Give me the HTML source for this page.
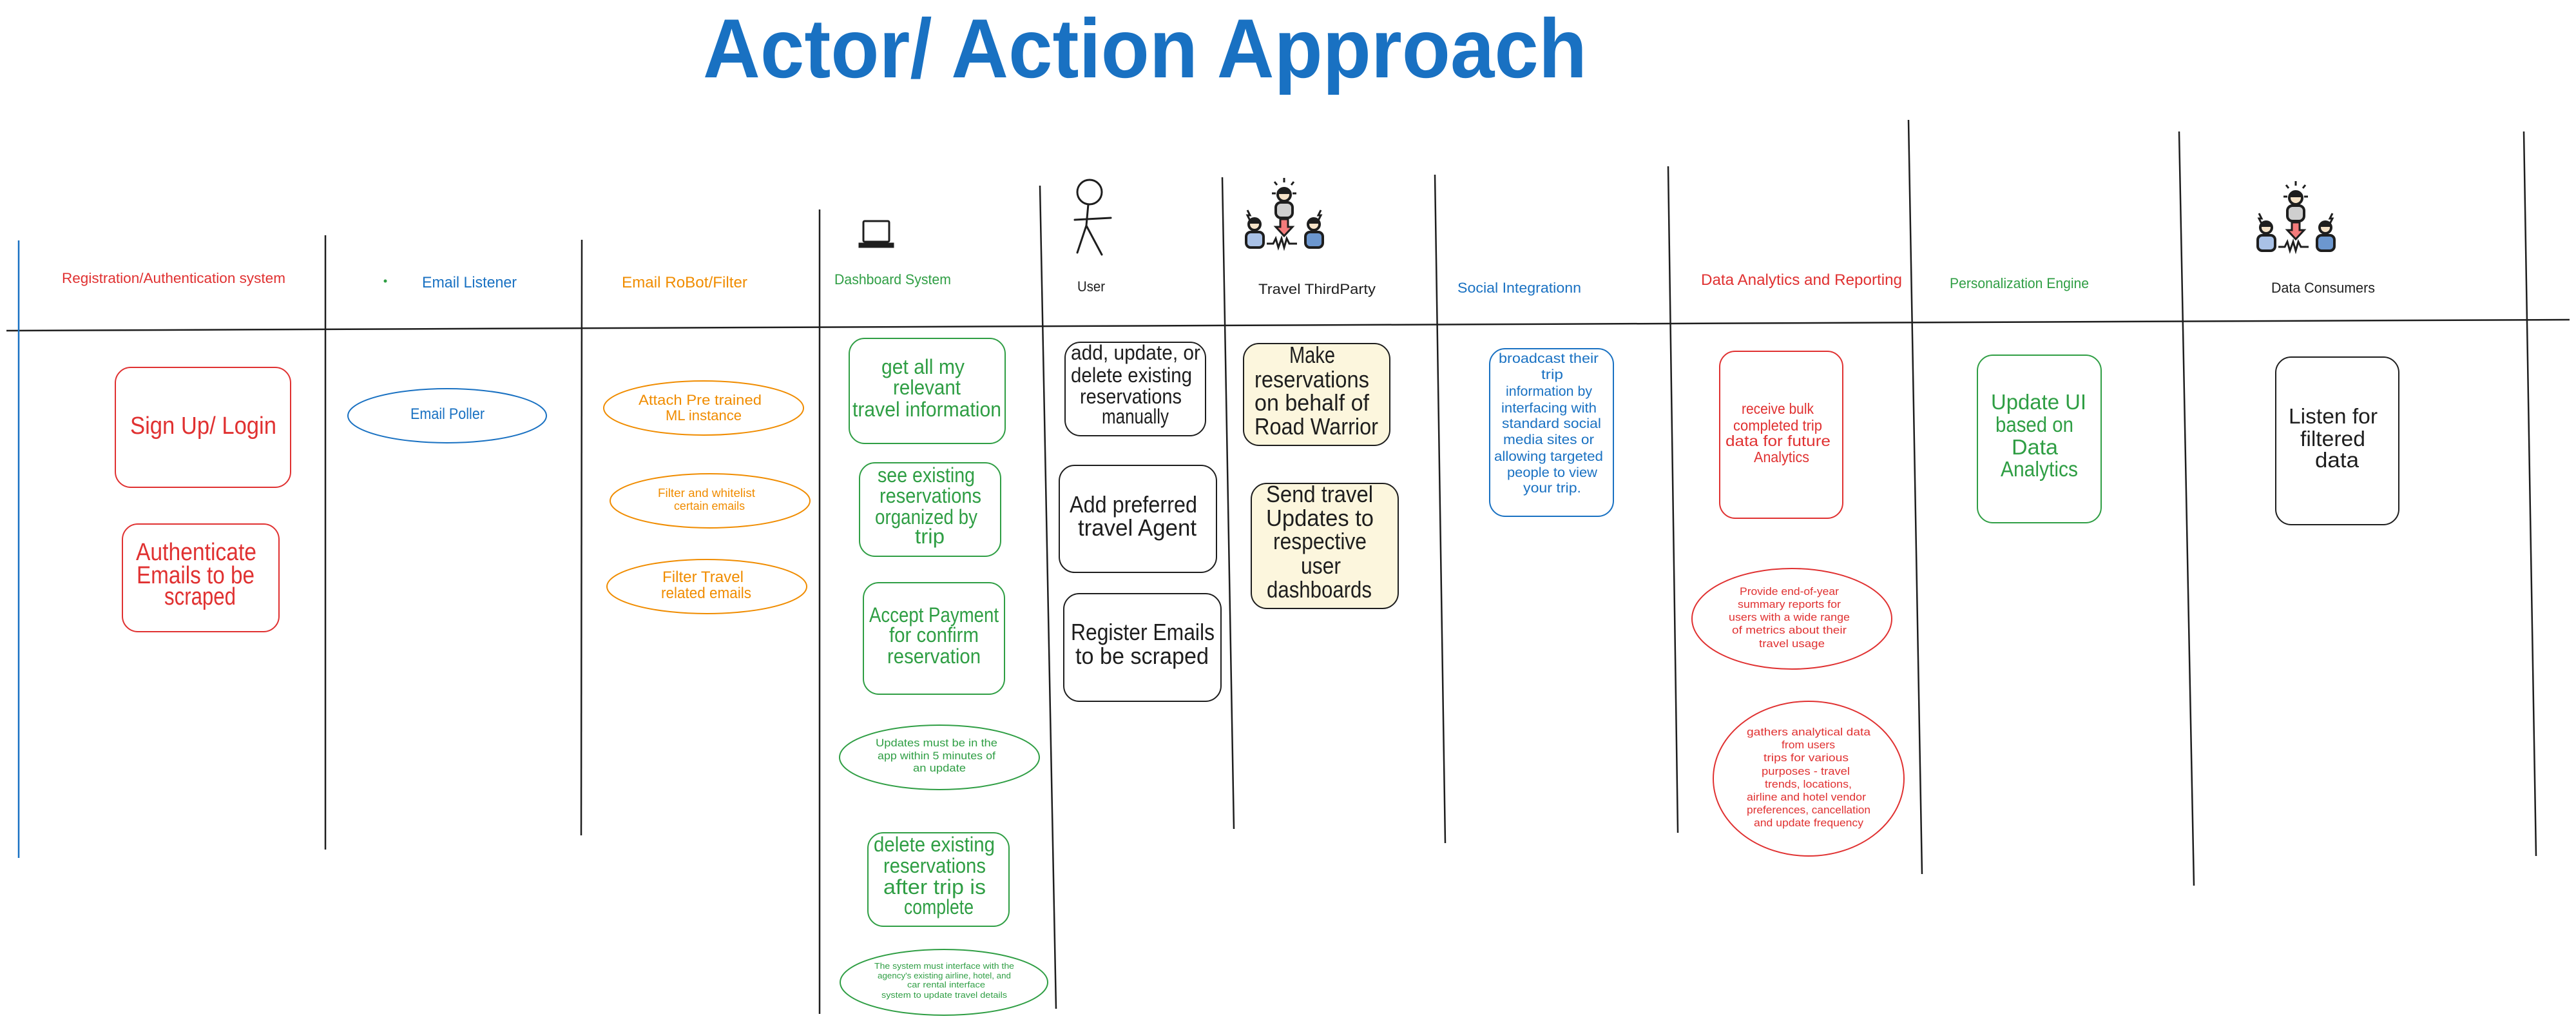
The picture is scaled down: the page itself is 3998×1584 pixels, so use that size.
<!DOCTYPE html>
<html><head><meta charset="utf-8"><style>
html,body{margin:0;padding:0;background:#fff;}
svg{display:block;}
text{font-family:"Liberation Sans",sans-serif;}
</style></head><body>
<svg width="3998" height="1584" viewBox="0 0 3998 1584" xmlns="http://www.w3.org/2000/svg">
<defs>
<g id="ppl">
  <g stroke="#1e1e1e" stroke-width="3" fill="none">
    <line x1="65" y1="2" x2="65" y2="9"/><line x1="50" y1="8" x2="54" y2="13"/><line x1="80" y1="8" x2="76" y2="13"/>
    <line x1="46" y1="26" x2="52" y2="26"/><line x1="78" y1="26" x2="84" y2="26"/>
  </g>
  <circle cx="65" cy="28" r="10" fill="#f6e3c8" stroke="#1e1e1e" stroke-width="4"/>
  <path d="M65 18 a10 10 0 0 1 10 9 h-20 a10 10 0 0 1 10 -9z" fill="#1e1e1e"/>
  <rect x="52" y="40" width="26" height="24" rx="8" fill="#cfcfcf" stroke="#1e1e1e" stroke-width="4"/>
  <path d="M59 66 h12 v12 h7 l-13 14 l-13 -14 h7z" fill="#f47b7b" stroke="#1e1e1e" stroke-width="3"/>
  <circle cx="19" cy="74" r="9" fill="#f6e3c8" stroke="#1e1e1e" stroke-width="4"/>
  <path d="M19 65 a9 9 0 0 1 9 8 h-18 a9 9 0 0 1 9 -8z" fill="#1e1e1e"/>
  <rect x="6" y="86" width="27" height="24" rx="7" fill="#a9c1e6" stroke="#1e1e1e" stroke-width="4"/>
  <circle cx="111" cy="74" r="9" fill="#f6e3c8" stroke="#1e1e1e" stroke-width="4"/>
  <path d="M111 65 a9 9 0 0 1 9 8 h-18 a9 9 0 0 1 9 -8z" fill="#1e1e1e"/>
  <rect x="98" y="86" width="27" height="24" rx="7" fill="#6c97cf" stroke="#1e1e1e" stroke-width="4"/>
  <path d="M38 104 h10 l4 -8 l4 14 l5 -14 l4 14 l4 -14 l4 8 h12" fill="none" stroke="#1e1e1e" stroke-width="3"/>
  <path d="M8 52 l4 8 l-4 0 l4 8" fill="none" stroke="#1e1e1e" stroke-width="3"/>
  <path d="M122 52 l-4 8 l4 0 l-4 8" fill="none" stroke="#1e1e1e" stroke-width="3"/>
</g>
</defs>

<!-- Title -->
<text x="1091" y="120" font-size="130" font-weight="bold" fill="#1971c2" textLength="1372" lengthAdjust="spacingAndGlyphs">Actor/ Action Approach</text>

<!-- Grid lines -->
<line x1="10" y1="513" x2="3988" y2="496" stroke="#1e1e1e" stroke-width="2.5"/>
<line x1="29" y1="373" x2="29" y2="1331" stroke="#1971c2" stroke-width="2.5"/>
<g stroke="#1e1e1e" stroke-width="2.5">
<line x1="505" y1="365" x2="505" y2="1318"/>
<line x1="903" y1="372" x2="902" y2="1296"/>
<line x1="1272" y1="325" x2="1272" y2="1573"/>
<line x1="1614" y1="288" x2="1639" y2="1565"/>
<line x1="1897" y1="275" x2="1915" y2="1286"/>
<line x1="2227" y1="271" x2="2243" y2="1308"/>
<line x1="2589" y1="258" x2="2604" y2="1292"/>
<line x1="2962" y1="186" x2="2983" y2="1356"/>
<line x1="3382" y1="204" x2="3405" y2="1374"/>
<line x1="3917" y1="204" x2="3936" y2="1328"/>
</g>

<!-- Headers -->
<text x="96" y="439" font-size="22" fill="#e03131" textLength="347" lengthAdjust="spacingAndGlyphs">Registration/Authentication system</text>
<circle cx="598" cy="436" r="2.5" fill="#2f9e44"/>
<text x="655" y="446" font-size="24" fill="#1971c2" textLength="147" lengthAdjust="spacingAndGlyphs">Email Listener</text>
<text x="965" y="446" font-size="24" fill="#f08c00" textLength="195" lengthAdjust="spacingAndGlyphs">Email RoBot/Filter</text>
<text x="1295" y="441" font-size="22" fill="#2f9e44" textLength="181" lengthAdjust="spacingAndGlyphs">Dashboard System</text>
<text x="1672" y="452" font-size="22" fill="#1e1e1e" textLength="43" lengthAdjust="spacingAndGlyphs">User</text>
<text x="1953" y="456" font-size="22" fill="#1e1e1e" textLength="182" lengthAdjust="spacingAndGlyphs">Travel ThirdParty</text>
<text x="2262" y="454" font-size="22" fill="#1971c2" textLength="192" lengthAdjust="spacingAndGlyphs">Social Integrationn</text>
<text x="2640" y="442" font-size="24" fill="#e03131" textLength="312" lengthAdjust="spacingAndGlyphs">Data Analytics and Reporting</text>
<text x="3026" y="447" font-size="22" fill="#2f9e44" textLength="216" lengthAdjust="spacingAndGlyphs">Personalization Engine</text>
<text x="3525" y="454" font-size="22" fill="#1e1e1e" textLength="161" lengthAdjust="spacingAndGlyphs">Data Consumers</text>

<!-- Icons -->
<g stroke="#1e1e1e" stroke-width="3" fill="none">
  <rect x="1340" y="343" width="40" height="32" rx="2"/>
  <path d="M1334 378 h52 v5 h-52z" fill="#1e1e1e"/>
</g>
<g stroke="#1e1e1e" stroke-width="3" fill="none" stroke-linecap="round">
  <circle cx="1691" cy="298" r="19"/>
  <path d="M1689 317 L1686 350 L1672 392 M1686 350 L1710 395 M1668 341 L1724 338"/>
</g>
<use href="#ppl" transform="translate(1928,274)"/>
<use href="#ppl" transform="translate(3498,279)"/>

<!-- Shapes -->
<g fill="none" stroke-width="2">
  <rect x="179" y="570" width="272" height="186" rx="24" stroke="#e03131"/>
  <rect x="190" y="813" width="243" height="167" rx="24" stroke="#e03131"/>
  <ellipse cx="694" cy="645" rx="154" ry="42" stroke="#1971c2"/>
  <ellipse cx="1092" cy="633" rx="155" ry="42" stroke="#f08c00"/>
  <ellipse cx="1102" cy="777" rx="155" ry="42" stroke="#f08c00"/>
  <ellipse cx="1097" cy="910" rx="155" ry="42" stroke="#f08c00"/>
  <rect x="1318" y="525" width="242" height="163" rx="24" stroke="#2f9e44"/>
  <rect x="1334" y="718" width="219" height="145" rx="24" stroke="#2f9e44"/>
  <rect x="1340" y="904" width="219" height="173" rx="24" stroke="#2f9e44"/>
  <ellipse cx="1458" cy="1175" rx="155" ry="50" stroke="#2f9e44"/>
  <rect x="1347" y="1292" width="219" height="145" rx="24" stroke="#2f9e44"/>
  <ellipse cx="1465" cy="1524" rx="161" ry="51" stroke="#2f9e44"/>
  <rect x="1653" y="531" width="218" height="145" rx="24" stroke="#1e1e1e"/>
  <rect x="1644" y="722" width="244" height="166" rx="24" stroke="#1e1e1e"/>
  <rect x="1651" y="921" width="244" height="167" rx="24" stroke="#1e1e1e"/>
  <rect x="1930" y="533" width="227" height="158" rx="24" stroke="#1e1e1e" fill="#fcf6dd"/>
  <rect x="1942" y="750" width="228" height="194" rx="24" stroke="#1e1e1e" fill="#fcf6dd"/>
  <rect x="2312" y="541" width="192" height="260" rx="24" stroke="#1971c2"/>
  <rect x="2669" y="545" width="191" height="259" rx="24" stroke="#e03131"/>
  <ellipse cx="2781" cy="960" rx="155" ry="78" stroke="#e03131"/>
  <ellipse cx="2807" cy="1208" rx="148" ry="120" stroke="#e03131"/>
  <rect x="3069" y="551" width="192" height="260" rx="24" stroke="#2f9e44"/>
  <rect x="3532" y="554" width="191" height="260" rx="24" stroke="#1e1e1e"/>
</g>

<!-- Box texts -->
<g fill="#e03131" font-size="38">
<text x="202" y="673" textLength="227" lengthAdjust="spacingAndGlyphs">Sign Up/ Login</text>
<text x="211" y="869" textLength="187" lengthAdjust="spacingAndGlyphs">Authenticate</text>
<text x="212" y="905" textLength="183" lengthAdjust="spacingAndGlyphs">Emails to be</text>
<text x="255" y="938" textLength="111" lengthAdjust="spacingAndGlyphs">scraped</text>
</g>
<text x="637" y="650" font-size="24" fill="#1971c2" textLength="115" lengthAdjust="spacingAndGlyphs">Email Poller</text>
<g fill="#f08c00">
<text x="991" y="628" font-size="22" textLength="191" lengthAdjust="spacingAndGlyphs">Attach Pre trained</text>
<text x="1033" y="652" font-size="22" textLength="118" lengthAdjust="spacingAndGlyphs">ML instance</text>
<text x="1021" y="771" font-size="18" textLength="151" lengthAdjust="spacingAndGlyphs">Filter and whitelist</text>
<text x="1046" y="791" font-size="18" textLength="110" lengthAdjust="spacingAndGlyphs">certain emails</text>
<text x="1028" y="903" font-size="24" textLength="126" lengthAdjust="spacingAndGlyphs">Filter Travel</text>
<text x="1026" y="928" font-size="24" textLength="140" lengthAdjust="spacingAndGlyphs">related emails</text>
</g>
<g fill="#2f9e44" font-size="32">
<text x="1368" y="580" textLength="129" lengthAdjust="spacingAndGlyphs">get all my</text>
<text x="1386" y="612" textLength="105" lengthAdjust="spacingAndGlyphs">relevant</text>
<text x="1323" y="646" textLength="231" lengthAdjust="spacingAndGlyphs">travel information</text>
<text x="1362" y="748" textLength="151" lengthAdjust="spacingAndGlyphs">see existing</text>
<text x="1365" y="780" textLength="158" lengthAdjust="spacingAndGlyphs">reservations</text>
<text x="1358" y="813" textLength="159" lengthAdjust="spacingAndGlyphs">organized by</text>
<text x="1420" y="843" textLength="46" lengthAdjust="spacingAndGlyphs">trip</text>
<text x="1349" y="965" textLength="201" lengthAdjust="spacingAndGlyphs">Accept Payment</text>
<text x="1380" y="996" textLength="139" lengthAdjust="spacingAndGlyphs">for confirm</text>
<text x="1377" y="1029" textLength="145" lengthAdjust="spacingAndGlyphs">reservation</text>
<text x="1356" y="1321" textLength="188" lengthAdjust="spacingAndGlyphs">delete existing</text>
<text x="1371" y="1354" textLength="159" lengthAdjust="spacingAndGlyphs">reservations</text>
<text x="1371" y="1387" textLength="159" lengthAdjust="spacingAndGlyphs">after trip is</text>
<text x="1403" y="1418" textLength="108" lengthAdjust="spacingAndGlyphs">complete</text>
</g>
<g fill="#2f9e44" font-size="17">
<text x="1359" y="1158" textLength="189" lengthAdjust="spacingAndGlyphs">Updates must be in the</text>
<text x="1362" y="1178" textLength="183" lengthAdjust="spacingAndGlyphs">app within 5 minutes of</text>
<text x="1417" y="1197" textLength="82" lengthAdjust="spacingAndGlyphs">an update</text>
</g>
<g fill="#2f9e44" font-size="13">
<text x="1357" y="1503" textLength="217" lengthAdjust="spacingAndGlyphs">The system must interface with the</text>
<text x="1362" y="1518" textLength="207" lengthAdjust="spacingAndGlyphs">agency's existing airline, hotel, and</text>
<text x="1408" y="1532" textLength="121" lengthAdjust="spacingAndGlyphs">car rental interface</text>
<text x="1368" y="1548" textLength="195" lengthAdjust="spacingAndGlyphs">system to update travel details</text>
</g>
<g fill="#1e1e1e" font-size="32">
<text x="1662" y="558" textLength="201" lengthAdjust="spacingAndGlyphs">add, update, or</text>
<text x="1662" y="593" textLength="188" lengthAdjust="spacingAndGlyphs">delete existing</text>
<text x="1676" y="626" textLength="158" lengthAdjust="spacingAndGlyphs">reservations</text>
<text x="1710" y="657" textLength="104" lengthAdjust="spacingAndGlyphs">manually</text>
</g>
<g fill="#1e1e1e" font-size="36">
<text x="1660" y="795" textLength="198" lengthAdjust="spacingAndGlyphs">Add preferred</text>
<text x="1673" y="831" textLength="184" lengthAdjust="spacingAndGlyphs">travel Agent</text>
<text x="1662" y="993" textLength="223" lengthAdjust="spacingAndGlyphs">Register Emails</text>
<text x="1669" y="1030" textLength="207" lengthAdjust="spacingAndGlyphs">to be scraped</text>
<text x="2001" y="563" textLength="71" lengthAdjust="spacingAndGlyphs">Make</text>
<text x="1947" y="601" textLength="178" lengthAdjust="spacingAndGlyphs">reservations</text>
<text x="1947" y="637" textLength="178" lengthAdjust="spacingAndGlyphs">on behalf of</text>
<text x="1947" y="674" textLength="192" lengthAdjust="spacingAndGlyphs">Road Warrior</text>
<text x="1965" y="779" textLength="166" lengthAdjust="spacingAndGlyphs">Send travel</text>
<text x="1965" y="816" textLength="167" lengthAdjust="spacingAndGlyphs">Updates to</text>
<text x="1976" y="852" textLength="145" lengthAdjust="spacingAndGlyphs">respective</text>
<text x="2019" y="890" textLength="62" lengthAdjust="spacingAndGlyphs">user</text>
<text x="1966" y="927" textLength="163" lengthAdjust="spacingAndGlyphs">dashboards</text>
</g>
<g fill="#1971c2" font-size="21">
<text x="2326" y="563" textLength="155" lengthAdjust="spacingAndGlyphs">broadcast their</text>
<text x="2392" y="588" textLength="34" lengthAdjust="spacingAndGlyphs">trip</text>
<text x="2337" y="614" textLength="134" lengthAdjust="spacingAndGlyphs">information by</text>
<text x="2330" y="640" textLength="148" lengthAdjust="spacingAndGlyphs">interfacing with</text>
<text x="2331" y="664" textLength="154" lengthAdjust="spacingAndGlyphs">standard social</text>
<text x="2333" y="689" textLength="141" lengthAdjust="spacingAndGlyphs">media sites or</text>
<text x="2319" y="715" textLength="169" lengthAdjust="spacingAndGlyphs">allowing targeted</text>
<text x="2339" y="740" textLength="140" lengthAdjust="spacingAndGlyphs">people to view</text>
<text x="2364" y="764" textLength="90" lengthAdjust="spacingAndGlyphs">your trip.</text>
</g>
<g fill="#e03131" font-size="23">
<text x="2703" y="642" textLength="112" lengthAdjust="spacingAndGlyphs">receive bulk</text>
<text x="2690" y="668" textLength="138" lengthAdjust="spacingAndGlyphs">completed trip</text>
<text x="2678" y="692" textLength="163" lengthAdjust="spacingAndGlyphs">data for future</text>
<text x="2722" y="717" textLength="86" lengthAdjust="spacingAndGlyphs">Analytics</text>
</g>
<g fill="#e03131" font-size="17">
<text x="2700" y="923" textLength="154" lengthAdjust="spacingAndGlyphs">Provide end-of-year</text>
<text x="2697" y="943" textLength="160" lengthAdjust="spacingAndGlyphs">summary reports for</text>
<text x="2683" y="963" textLength="188" lengthAdjust="spacingAndGlyphs">users with a wide range</text>
<text x="2688" y="983" textLength="178" lengthAdjust="spacingAndGlyphs">of metrics about their</text>
<text x="2730" y="1004" textLength="102" lengthAdjust="spacingAndGlyphs">travel usage</text>
<text x="2711" y="1141" textLength="192" lengthAdjust="spacingAndGlyphs">gathers analytical data</text>
<text x="2765" y="1161" textLength="83" lengthAdjust="spacingAndGlyphs">from users</text>
<text x="2737" y="1181" textLength="132" lengthAdjust="spacingAndGlyphs">trips for various</text>
<text x="2734" y="1202" textLength="137" lengthAdjust="spacingAndGlyphs">purposes - travel</text>
<text x="2739" y="1222" textLength="135" lengthAdjust="spacingAndGlyphs">trends, locations,</text>
<text x="2711" y="1242" textLength="185" lengthAdjust="spacingAndGlyphs">airline and hotel vendor</text>
<text x="2711" y="1262" textLength="192" lengthAdjust="spacingAndGlyphs">preferences, cancellation</text>
<text x="2722" y="1282" textLength="170" lengthAdjust="spacingAndGlyphs">and update frequency</text>
</g>
<g fill="#2f9e44" font-size="33">
<text x="3090" y="635" textLength="148" lengthAdjust="spacingAndGlyphs">Update UI</text>
<text x="3097" y="670" textLength="121" lengthAdjust="spacingAndGlyphs">based on</text>
<text x="3122" y="705" textLength="72" lengthAdjust="spacingAndGlyphs">Data</text>
<text x="3105" y="739" textLength="120" lengthAdjust="spacingAndGlyphs">Analytics</text>
</g>
<g fill="#1e1e1e" font-size="33">
<text x="3552" y="657" textLength="138" lengthAdjust="spacingAndGlyphs">Listen for</text>
<text x="3570" y="692" textLength="101" lengthAdjust="spacingAndGlyphs">filtered</text>
<text x="3593" y="725" textLength="68" lengthAdjust="spacingAndGlyphs">data</text>
</g>
</svg>
</body></html>
